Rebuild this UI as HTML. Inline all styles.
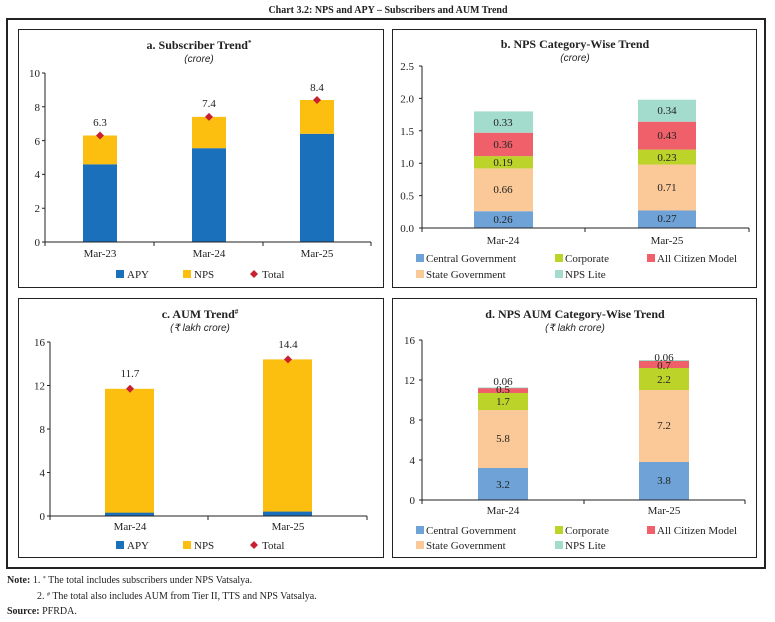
<!DOCTYPE html>
<html><head><meta charset="utf-8"><style>
html,body{margin:0;padding:0;background:#fff}
svg{display:block;font-family:"Liberation Serif",serif}
</style></head><body>
<svg width="775" height="622" viewBox="0 0 775 622" xmlns="http://www.w3.org/2000/svg">
<text x="388" y="13" font-size="10" font-weight="bold" text-anchor="middle" fill="#222">Chart 3.2: NPS and APY – Subscribers and AUM Trend</text>
<rect x="7" y="19" width="758" height="549" fill="none" stroke="#222" stroke-width="2"/>
<g fill="none" stroke="#222" stroke-width="1">
<rect x="18.5" y="29.5" width="365" height="258"/>
<rect x="392.5" y="29.5" width="364" height="258"/>
<rect x="18.5" y="298.5" width="365" height="259"/>
<rect x="392.5" y="298.5" width="364" height="259"/>
</g>

<!-- Panel a -->
<g font-size="11" fill="#222">
<text x="199" y="49" text-anchor="middle" font-weight="bold" font-size="12">a. Subscriber Trend<tspan font-size="7" dy="-4">*</tspan></text>
<text x="199" y="62" text-anchor="middle" font-style="italic" font-size="10" font-family="Liberation Sans,sans-serif">(crore)</text>
<g text-anchor="end"><text x="40" y="246">0</text><text x="40" y="212">2</text><text x="40" y="178">4</text><text x="40" y="145">6</text><text x="40" y="111">8</text><text x="40" y="77">10</text></g>
</g>
<rect x="83" y="164.3" width="34" height="77.7" fill="#1a70ba"/><rect x="83" y="135.5" width="34" height="28.8" fill="#fcbf10"/>
<rect x="192" y="148.2" width="34" height="93.8" fill="#1a70ba"/><rect x="192" y="116.9" width="34" height="31.3" fill="#fcbf10"/>
<rect x="300" y="133.8" width="34" height="108.2" fill="#1a70ba"/><rect x="300" y="100" width="34" height="33.8" fill="#fcbf10"/>
<g fill="#c8202f"><path d="M100 131.5l4 4-4 4-4-4z"/><path d="M209 112.9l4 4-4 4-4-4z"/><path d="M317 96l4 4-4 4-4-4z"/></g>
<g stroke="#222" stroke-width="1" fill="none"><path d="M45 73V242H371"/><path d="M42 73h3M42 106.8h3M42 140.6h3M42 174.4h3M42 208.2h3M42 242h3M45 242v4M154 242v4M263 242v4M371 242v4"/></g>
<g font-size="11" fill="#222" text-anchor="middle">
<text x="100" y="126">6.3</text><text x="209" y="107">7.4</text><text x="317" y="91">8.4</text>
<text x="100" y="257">Mar-23</text><text x="209" y="257">Mar-24</text><text x="317" y="257">Mar-25</text>
</g>
<rect x="116" y="270" width="8" height="8" fill="#1a70ba"/><text x="127" y="278" font-size="11" fill="#222">APY</text>
<rect x="183" y="270" width="8" height="8" fill="#fcbf10"/><text x="194" y="278" font-size="11" fill="#222">NPS</text>
<path d="M254 270l4 4-4 4-4-4z" fill="#c8202f"/><text x="262" y="278" font-size="11" fill="#222">Total</text>

<!-- Panel b -->
<g font-size="11" fill="#222">
<text x="575" y="48" text-anchor="middle" font-weight="bold" font-size="12">b. NPS Category-Wise Trend</text>
<text x="575" y="61" text-anchor="middle" font-style="italic" font-size="10" font-family="Liberation Sans,sans-serif">(crore)</text>
<g text-anchor="end"><text x="414" y="232">0.0</text><text x="414" y="199.6">0.5</text><text x="414" y="167.2">1.0</text><text x="414" y="134.8">1.5</text><text x="414" y="102.4">2.0</text><text x="414" y="70">2.5</text></g>
</g>
<rect x="474" y="211.2" width="59" height="16.8" fill="#6fa3d8"/><rect x="474" y="168.4" width="59" height="42.8" fill="#fbc998"/><rect x="474" y="156.1" width="59" height="12.3" fill="#bcd32a"/><rect x="474" y="132.7" width="59" height="23.4" fill="#f0606a"/><rect x="474" y="111.4" width="59" height="21.3" fill="#a3dccc"/>
<rect x="638" y="210.5" width="58" height="17.5" fill="#6fa3d8"/><rect x="638" y="164.5" width="58" height="46" fill="#fbc998"/><rect x="638" y="149.6" width="58" height="14.9" fill="#bcd32a"/><rect x="638" y="121.7" width="58" height="27.9" fill="#f0606a"/><rect x="638" y="99.7" width="58" height="22" fill="#a3dccc"/>
<g stroke="#222" stroke-width="1" fill="none"><path d="M422 66V228H749"/><path d="M419 66h3M419 98.4h3M419 130.8h3M419 163.2h3M419 195.6h3M419 228h3M422 228v4M585 228v4M749 228v4"/></g>
<g font-size="11" fill="#222" text-anchor="middle">
<text x="503" y="223">0.26</text><text x="503" y="193">0.66</text><text x="503" y="166">0.19</text><text x="503" y="148">0.36</text><text x="503" y="126">0.33</text>
<text x="667" y="222">0.27</text><text x="667" y="191">0.71</text><text x="667" y="161">0.23</text><text x="667" y="139">0.43</text><text x="667" y="114">0.34</text>
<text x="503" y="244">Mar-24</text><text x="667" y="244">Mar-25</text>
</g>
<g font-size="11" fill="#222">
<rect x="416" y="254" width="8" height="8" fill="#6fa3d8"/><text x="426" y="262">Central Government</text>
<rect x="555" y="254" width="8" height="8" fill="#bcd32a"/><text x="565" y="262">Corporate</text>
<rect x="647" y="254" width="8" height="8" fill="#f0606a"/><text x="657" y="262">All Citizen Model</text>
<rect x="416" y="270" width="8" height="8" fill="#fbc998"/><text x="426" y="278">State Government</text>
<rect x="555" y="270" width="8" height="8" fill="#a3dccc"/><text x="565" y="278">NPS Lite</text>
</g>

<!-- Panel c -->
<g font-size="11" fill="#222">
<text x="200" y="318" text-anchor="middle" font-weight="bold" font-size="12">c. AUM Trend<tspan font-size="7" dy="-4">#</tspan></text>
<text x="200" y="331" text-anchor="middle" font-style="italic" font-size="10" font-family="Liberation Sans,sans-serif">(₹ lakh crore)</text>
<g text-anchor="end"><text x="45" y="520">0</text><text x="45" y="476.5">4</text><text x="45" y="433">8</text><text x="45" y="389.5">12</text><text x="45" y="346">16</text></g>
</g>
<rect x="105" y="388.8" width="49" height="127.2" fill="#fcbf10"/><rect x="105" y="512.7" width="49" height="3.3" fill="#1a70ba"/>
<rect x="263" y="359.4" width="49" height="156.6" fill="#fcbf10"/><rect x="263" y="511.6" width="49" height="4.4" fill="#1a70ba"/>
<g fill="#c8202f"><path d="M130 384.8l4 4-4 4-4-4z"/><path d="M288 355.4l4 4-4 4-4-4z"/></g>
<g stroke="#222" stroke-width="1" fill="none"><path d="M50 342V516H367"/><path d="M47 342h3M47 385.5h3M47 429h3M47 472.5h3M47 516h3M50 516v4M208 516v4M367 516v4"/></g>
<g font-size="11" fill="#222" text-anchor="middle">
<text x="130" y="377">11.7</text><text x="288" y="348">14.4</text>
<text x="130" y="530">Mar-24</text><text x="288" y="530">Mar-25</text>
</g>
<rect x="116" y="541" width="8" height="8" fill="#1a70ba"/><text x="127" y="549" font-size="11" fill="#222">APY</text>
<rect x="183" y="541" width="8" height="8" fill="#fcbf10"/><text x="194" y="549" font-size="11" fill="#222">NPS</text>
<path d="M254 541l4 4-4 4-4-4z" fill="#c8202f"/><text x="262" y="549" font-size="11" fill="#222">Total</text>

<!-- Panel d -->
<g font-size="11" fill="#222">
<text x="575" y="318" text-anchor="middle" font-weight="bold" font-size="12">d. NPS AUM Category-Wise Trend</text>
<text x="575" y="331" text-anchor="middle" font-style="italic" font-size="10" font-family="Liberation Sans,sans-serif">(₹ lakh crore)</text>
<g text-anchor="end"><text x="415" y="504">0</text><text x="415" y="464">4</text><text x="415" y="424">8</text><text x="415" y="384">12</text><text x="415" y="344">16</text></g>
</g>
<rect x="478" y="468" width="50" height="32" fill="#6fa3d8"/><rect x="478" y="410" width="50" height="58" fill="#fbc998"/><rect x="478" y="393" width="50" height="17" fill="#bcd32a"/><rect x="478" y="388" width="50" height="5" fill="#f0606a"/><rect x="478" y="387.4" width="50" height="0.8" fill="#a3dccc"/>
<rect x="639" y="462" width="50" height="38" fill="#6fa3d8"/><rect x="639" y="390" width="50" height="72" fill="#fbc998"/><rect x="639" y="368" width="50" height="22" fill="#bcd32a"/><rect x="639" y="361" width="50" height="7" fill="#f0606a"/><rect x="639" y="360" width="50" height="1" fill="#a3dccc"/>
<g stroke="#222" stroke-width="1" fill="none"><path d="M422 340V500H745"/><path d="M419 340h3M419 380h3M419 420h3M419 460h3M419 500h3M422 500v4M584 500v4M745 500v4"/></g>
<g font-size="11" fill="#222" text-anchor="middle">
<text x="503" y="488">3.2</text><text x="503" y="442">5.8</text><text x="503" y="405">1.7</text><text x="503" y="393">0.5</text><text x="503" y="385">0.06</text>
<text x="664" y="484">3.8</text><text x="664" y="429">7.2</text><text x="664" y="383">2.2</text><text x="664" y="369">0.7</text><text x="664" y="361">0.06</text>
<text x="503" y="514">Mar-24</text><text x="664" y="514">Mar-25</text>
</g>
<g font-size="11" fill="#222">
<rect x="416" y="526" width="8" height="8" fill="#6fa3d8"/><text x="426" y="534">Central Government</text>
<rect x="555" y="526" width="8" height="8" fill="#bcd32a"/><text x="565" y="534">Corporate</text>
<rect x="647" y="526" width="8" height="8" fill="#f0606a"/><text x="657" y="534">All Citizen Model</text>
<rect x="416" y="541" width="8" height="8" fill="#fbc998"/><text x="426" y="549">State Government</text>
<rect x="555" y="541" width="8" height="8" fill="#a3dccc"/><text x="565" y="549">NPS Lite</text>
</g>

<!-- Notes -->
<g font-size="10" fill="#222">
<text x="7" y="583"><tspan font-weight="bold">Note:</tspan>  1.  <tspan font-size="6" dy="-3">*</tspan><tspan dy="3"> The total includes subscribers under NPS Vatsalya.</tspan></text>
<text x="37" y="599">2.  <tspan font-size="6" dy="-3">#</tspan><tspan dy="3"> The total also includes AUM from Tier II, TTS and NPS Vatsalya.</tspan></text>
<text x="7" y="614"><tspan font-weight="bold">Source:</tspan> PFRDA.</text>
</g>
</svg>
</body></html>
